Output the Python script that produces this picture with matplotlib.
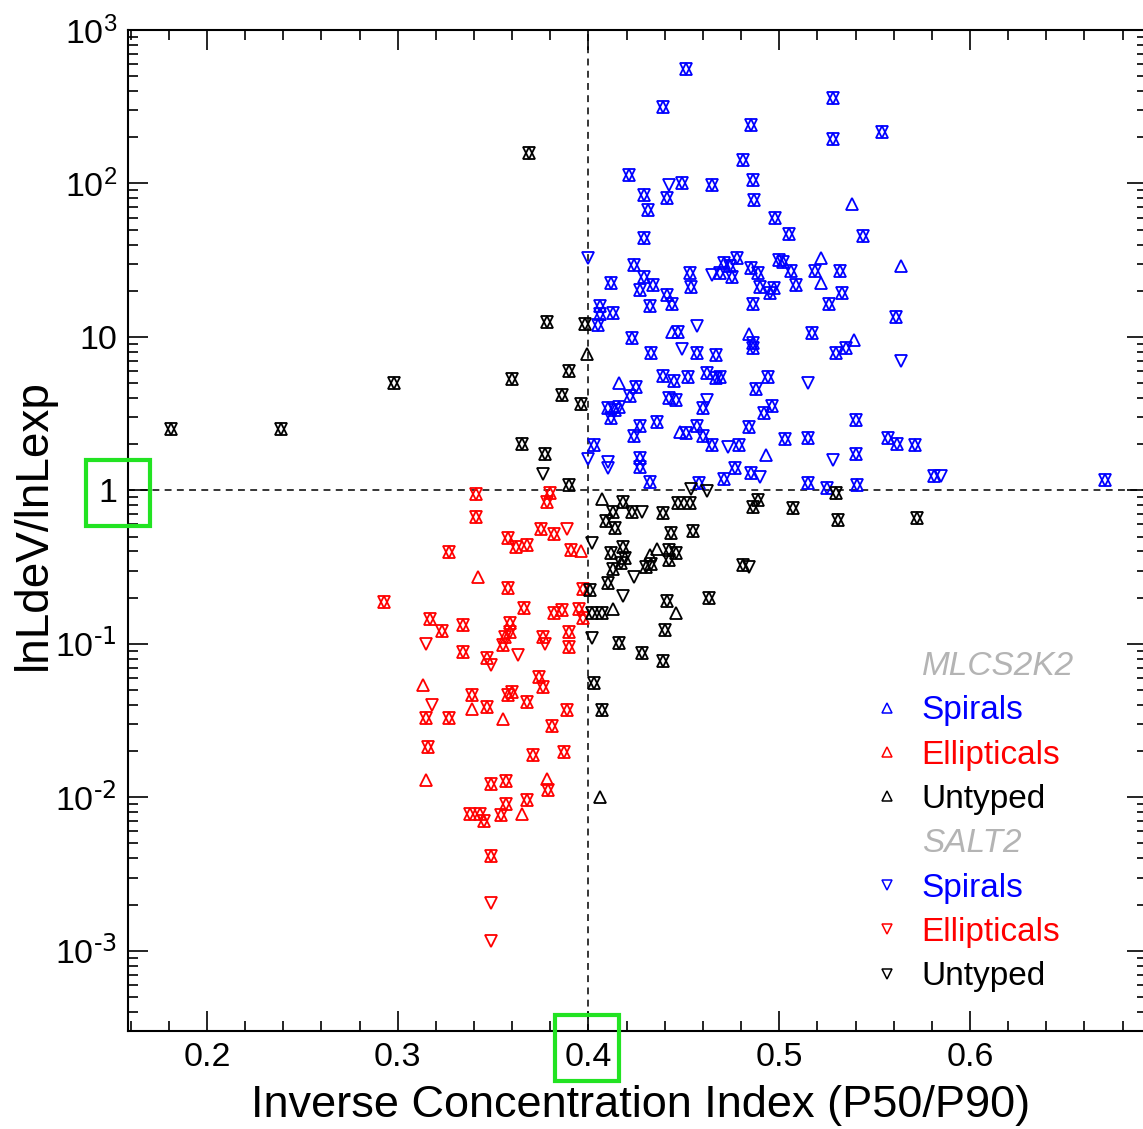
import numpy as np
import matplotlib
matplotlib.use("Agg")
import matplotlib.pyplot as plt
from matplotlib.lines import Line2D
from matplotlib.patches import Rectangle
from matplotlib.ticker import FixedLocator, FixedFormatter, MultipleLocator, LogLocator, NullFormatter

plt.rcParams['font.family'] = ['Liberation Sans', 'DejaVu Sans']
plt.rcParams['mathtext.default'] = 'regular'

# --- data: (x = P50/P90, y = lnLdeV/lnLexp) ---
# "both" = MLCS2K2 and SALT2 agree (up + down triangle overlap)
spiral_both_x = [0.451, 0.439, 0.485, 0.481, 0.486, 0.487, 0.498, 0.421, 0.429, 0.441, 0.449, 0.465,
                 0.431, 0.429, 0.424, 0.429, 0.434, 0.427, 0.412, 0.406, 0.406, 0.413, 0.405, 0.432,
                 0.441, 0.444, 0.453, 0.454, 0.469, 0.471, 0.474, 0.475, 0.478, 0.485, 0.489, 0.490,
                 0.495, 0.497, 0.486, 0.486, 0.423, 0.447, 0.500, 0.528, 0.528, 0.554, 0.505, 0.544,
                 0.502, 0.506, 0.519, 0.532, 0.509, 0.533, 0.526, 0.561, 0.517, 0.433, 0.457, 0.467,
                 0.486, 0.530, 0.535, 0.425, 0.422, 0.439, 0.445, 0.452, 0.462, 0.467, 0.469, 0.442,
                 0.446, 0.460, 0.488, 0.494, 0.496, 0.492, 0.410, 0.414, 0.416, 0.412, 0.427, 0.424,
                 0.436, 0.451, 0.457, 0.460, 0.465, 0.479, 0.484, 0.503, 0.515, 0.540, 0.540, 0.557,
                 0.562, 0.571, 0.581, 0.485, 0.477, 0.471, 0.515, 0.525, 0.541, 0.458, 0.432, 0.427,
                 0.427, 0.403, 0.671]
spiral_both_y = [561, 313, 239, 143, 106, 77.5, 60, 113, 83.5, 81, 100, 98,
                 66.9, 43.8, 29.6, 24.4, 21.7, 20.1, 22.3, 16.0, 14.2, 14.4, 11.9, 15.8,
                 18.7, 16.5, 25.9, 21.0, 26.2, 30.5, 29.1, 24.4, 32.5, 28.3, 25.9, 21.0,
                 19.2, 20.7, 16.5, 9.1, 9.8, 10.7, 31.5, 358, 196, 215, 46.5, 45.2,
                 31.0, 26.7, 26.7, 26.7, 21.7, 19.2, 16.5, 13.4, 10.6, 7.8, 7.8, 7.6,
                 8.5, 7.9, 8.5, 4.69, 4.1, 5.6, 5.2, 5.5, 5.8, 5.4, 5.45, 4.0,
                 3.9, 3.42, 4.6, 5.45, 3.53, 3.18, 3.42, 3.32, 3.47, 2.95, 2.61, 2.25,
                 2.77, 2.35, 2.61, 2.25, 1.99, 1.99, 2.57, 2.15, 2.2, 2.86, 1.72, 2.18,
                 2.02, 1.99, 1.25, 1.29, 1.39, 1.18, 1.11, 1.03, 1.08, 1.11, 1.14, 1.62,
                 1.41, 1.97, 1.16]
spiral_mlcs_x = [0.538, 0.522, 0.522, 0.564, 0.484, 0.444, 0.539, 0.416, 0.448, 0.493]
spiral_mlcs_y = [74, 32.5, 22.6, 28.8, 10.5, 10.7, 9.6, 5.0, 2.39, 1.69]
spiral_salt_x = [0.442, 0.400, 0.457, 0.465, 0.449, 0.564, 0.515, 0.462, 0.473, 0.528, 0.585,
                 0.490, 0.410, 0.410, 0.400]
spiral_salt_y = [97, 32.5, 11.7, 25.2, 8.3, 7.0, 4.98, 3.86, 1.91, 1.57, 1.25,
                 1.22, 1.52, 1.39, 1.59]

ellip_both_x = [0.341, 0.341, 0.380, 0.378, 0.375, 0.382, 0.358, 0.362, 0.368, 0.391, 0.327,
                0.358, 0.293, 0.366, 0.397, 0.382, 0.386, 0.395, 0.397, 0.317, 0.323, 0.334,
                0.359, 0.359, 0.356, 0.355, 0.334, 0.347, 0.376, 0.390, 0.390, 0.315, 0.327,
                0.339, 0.347, 0.358, 0.360, 0.368, 0.374, 0.376, 0.389, 0.381, 0.316, 0.371,
                0.387, 0.349, 0.357, 0.379, 0.357, 0.368, 0.338, 0.343, 0.345, 0.354, 0.349]
ellip_both_y = [0.942, 0.667, 0.956, 0.835, 0.557, 0.517, 0.487, 0.425, 0.438, 0.407, 0.395,
                0.23, 0.186, 0.17, 0.227, 0.158, 0.165, 0.168, 0.147, 0.145, 0.122, 0.132,
                0.136, 0.12, 0.11, 0.098, 0.088, 0.0806, 0.11, 0.119, 0.095, 0.033, 0.033,
                0.0463, 0.0386, 0.0463, 0.0484, 0.0417, 0.0606, 0.052, 0.0368, 0.029, 0.0212, 0.0188,
                0.0197, 0.0122, 0.0128, 0.0112, 0.0091, 0.0096, 0.0078, 0.0078, 0.0070, 0.0077, 0.00412]
ellip_mlcs_x = [0.396, 0.342, 0.313, 0.339, 0.355, 0.315, 0.378, 0.365]
ellip_mlcs_y = [0.401, 0.271, 0.0537, 0.0376, 0.0326, 0.0129, 0.0131, 0.0078]
ellip_salt_x = [0.389, 0.315, 0.349, 0.363, 0.377, 0.318, 0.349, 0.349]
ellip_salt_y = [0.557, 0.1, 0.0728, 0.0841, 0.1, 0.0398, 0.00204, 0.00116]

untyped_both_x = [0.181, 0.239, 0.298, 0.369, 0.378, 0.398, 0.390, 0.360, 0.386, 0.396, 0.365,
                  0.377, 0.390, 0.418, 0.413, 0.423, 0.409, 0.414, 0.439, 0.447, 0.453, 0.443,
                  0.455, 0.489, 0.486, 0.412, 0.418, 0.419, 0.417, 0.413, 0.410, 0.430, 0.433,
                  0.442, 0.446, 0.442, 0.481, 0.401, 0.402, 0.407, 0.441, 0.463, 0.440, 0.416,
                  0.428, 0.439, 0.403, 0.407, 0.530, 0.531, 0.572, 0.507]
untyped_both_y = [2.53, 2.53, 4.98, 157, 12.6, 12.2, 5.96, 5.29, 4.16, 3.63, 2.02,
                  1.72, 1.08, 0.835, 0.719, 0.719, 0.628, 0.565, 0.708, 0.823, 0.823, 0.525,
                  0.541, 0.861, 0.775, 0.389, 0.425, 0.36, 0.335, 0.306, 0.248, 0.315, 0.33,
                  0.407, 0.389, 0.35, 0.325, 0.224, 0.158, 0.158, 0.189, 0.198, 0.124, 0.101,
                  0.0866, 0.077, 0.0553, 0.0368, 0.956, 0.638, 0.657, 0.763]
untyped_mlcs_x = [0.399, 0.407, 0.432, 0.436, 0.413, 0.446, 0.406]
untyped_mlcs_y = [7.7, 0.874, 0.377, 0.413, 0.168, 0.158, 0.0100]
untyped_salt_x = [0.376, 0.428, 0.454, 0.462, 0.402, 0.424, 0.484, 0.418, 0.402]
untyped_salt_y = [1.27, 0.719, 1.015, 0.985, 0.452, 0.271, 0.315, 0.204, 0.109]

groups = [
    ('Spirals', 'blue', spiral_both_x, spiral_both_y, spiral_mlcs_x, spiral_mlcs_y, spiral_salt_x, spiral_salt_y),
    ('Ellipticals', 'red', ellip_both_x, ellip_both_y, ellip_mlcs_x, ellip_mlcs_y, ellip_salt_x, ellip_salt_y),
    ('Untyped', 'black', untyped_both_x, untyped_both_y, untyped_mlcs_x, untyped_mlcs_y, untyped_salt_x, untyped_salt_y),
]

W, H = 1143, 1129
fig = plt.figure(figsize=(W / 100, H / 100), dpi=100)
ax = fig.add_axes([128 / W, 1 - 1031 / H, (1147 - 128) / W, (1031 - 30) / H])

ms, mew = 9, 1.3
for name, col, bx, by, ux, uy, dx, dy in groups:
    up_x = list(bx) + list(ux)
    up_y = list(by) + list(uy)
    dn_x = list(bx) + list(dx)
    dn_y = list(by) + list(dy)
    ax.plot(up_x, up_y, ls='none', marker='^', ms=ms, mfc='none', mec=col, mew=mew)
    ax.plot(dn_x, dn_y, ls='none', marker='v', ms=ms, mfc='none', mec=col, mew=mew)

ax.axvline(0.4, color='black', ls=(0, (4.5, 3.5)), lw=1.1, zorder=0)
ax.axhline(1.0, color='black', ls=(0, (4.5, 3.5)), lw=1.1, zorder=0)

ax.set_yscale('log')
ax.set_xlim(0.1586, 0.6928)
ax.set_ylim(3.0e-4, 1e3)

xt = [0.2, 0.3, 0.4, 0.5, 0.6]
ax.xaxis.set_major_locator(FixedLocator(xt))
ax.xaxis.set_major_formatter(FixedFormatter(['0.2', '0.3', '0.4', '0.5', '0.6']))
ax.xaxis.set_minor_locator(MultipleLocator(0.02))

yt = [1e-3, 1e-2, 1e-1, 1, 10, 1e2, 1e3]
ax.yaxis.set_major_locator(FixedLocator(yt))
ax.yaxis.set_major_formatter(FixedFormatter(
    [r'$10^{\text{-3}}$', r'$10^{\text{-2}}$', r'$10^{\text{-1}}$', '1', '10',
     r'$10^{2}$', r'$10^{3}$']))
ax.yaxis.set_minor_locator(LogLocator(base=10, subs=np.arange(2, 10), numticks=20))
ax.yaxis.set_minor_formatter(NullFormatter())

ax.tick_params(which='both', direction='in', top=True, right=True, labelsize=24.5, width=1.2)
ax.tick_params(which='major', length=14.5, pad=8)
ax.tick_params(which='minor', length=7.5)
for s in ax.spines.values():
    s.set_linewidth(1.5)

ax.set_xlabel('Inverse Concentration Index (P50/P90)', fontsize=32.5)
ax.set_ylabel('lnLdeV/lnLexp', fontsize=33)
ax.xaxis.set_label_coords(0.503, -0.0535)
ax.yaxis.set_label_coords(-0.0705, 0.506)

# legend
gray = '#b4b4b4'
blank = Line2D([], [], ls='none')
handles, labels, colors = [], [], []
for title, mk in (('MLCS2K2', '^'), ('SALT2', 'v')):
    handles.append(blank)
    labels.append(title)
    colors.append(gray)
    for name, col, *_ in groups:
        handles.append(Line2D([], [], ls='none', marker=mk, ms=7, mfc='none', mec=col, mew=1.1))
        labels.append(name)
        colors.append(col)
leg = ax.legend(handles, labels, loc='upper left', bbox_to_anchor=(870 / W, 1 - 651 / H),
                bbox_transform=fig.transFigure, frameon=False, fontsize=24, borderpad=0,
                borderaxespad=0, handlelength=1.0, handletextpad=0.55, labelspacing=0.40)
for t, c, lab in zip(leg.get_texts(), colors, labels):
    t.set_color(c)
    if c == gray:
        t.set_fontstyle('italic')

# green highlight boxes
for (x0, y0, x1, y1) in ((86, 460, 150, 526), (555, 1015, 619, 1081)):
    fig.add_artist(Rectangle((x0 / W, 1 - y1 / H), (x1 - x0) / W, (y1 - y0) / H,
                             transform=fig.transFigure, fill=False, ec='#22e322', lw=3.0))

fig.savefig('out.png', dpi=100)
